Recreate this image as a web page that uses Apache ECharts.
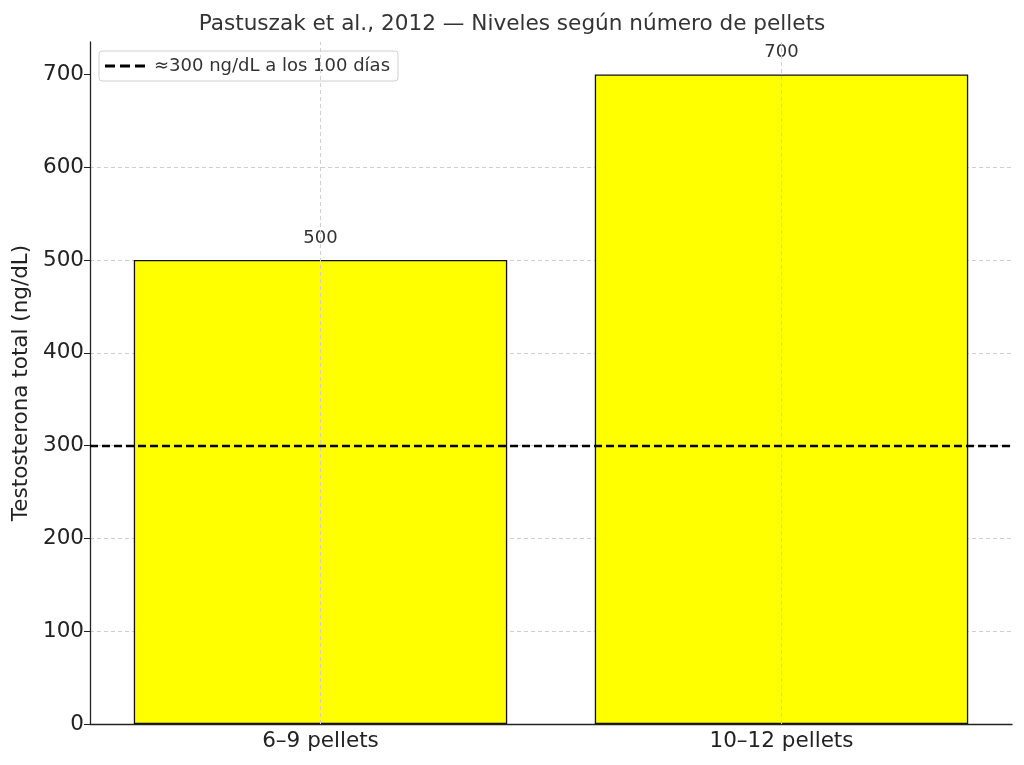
<!DOCTYPE html>
<html>
<head>
<meta charset="utf-8">
<script src="https://cdn.jsdelivr.net/npm/echarts@6/dist/echarts.min.js"></script>
<style>
  html, body { margin: 0; padding: 0; background: #fff; }
  #chart { width: 1024px; height: 765px; }
</style>
</head>
<body>
<div id="chart"></div>
<script>
// datos del gráfico
var categorias = ['6–9 pellets', '10–12 pellets'];
var niveles = [500, 700];
var umbral = 300;
var nombreUmbral = '≈300 ng/dL a los 100 días';
var ticksY = [0, 100, 200, 300, 400, 500, 600, 700];

var myChart = echarts.init(document.getElementById('chart'));
var font = 'DejaVu Sans';

// icono de leyenda: tres trazos negros
var iconoGuiones = 'path://M0,0 L10,0 L10,3 L0,3 Z M15,0 L25,0 L25,3 L15,3 Z M30,0 L40,0 L40,3 L30,3 Z';

// líneas verticales de la rejilla en el centro de cada categoría
var lineasVerticales = categorias.map(function (c) {
    return { xAxis: c, lineStyle: { color: '#cfcfcf', type: [4, 3], width: 1 } };
});

var option = {
    animation: false,
    textStyle: { fontFamily: font },
    title: {
        text: 'Pastuszak et al., 2012 — Niveles según número de pellets',
        left: 'center',
        top: 8,
        textStyle: { fontFamily: font, fontSize: 21.6, fontWeight: 'normal', color: '#333' }
    },
    legend: {
        left: 99,
        top: 51,
        data: [{ name: nombreUmbral, icon: iconoGuiones }],
        itemWidth: 40,
        itemHeight: 3,
        itemGap: 10,
        padding: [6, 8, 6, 6],
        borderColor: '#d0d0d0',
        borderWidth: 1,
        borderRadius: 3,
        backgroundColor: 'rgba(255,255,255,0.8)',
        textStyle: { fontFamily: font, fontSize: 18, color: '#333', padding: [0, 0, 0, 4] }
    },
    grid: { left: 90, right: 12, top: 42, bottom: 41, containLabel: false },
    xAxis: {
        type: 'category',
        data: categorias,
        axisLine: { lineStyle: { color: '#222', width: 1.3 } },
        axisTick: { alignWithLabel: true, length: 6, lineStyle: { color: '#222' } },
        axisLabel: { fontSize: 21.5, color: '#222', margin: 6 },
        splitLine: { show: false }
    },
    yAxis: {
        type: 'value',
        min: 0,
        max: 735,
        interval: 100,
        name: 'Testosterona total (ng/dL)',
        nameLocation: 'middle',
        nameGap: 56,
        nameTextStyle: { fontSize: 21.5, color: '#222' },
        axisLine: { show: true, lineStyle: { color: '#222', width: 1.3 } },
        axisTick: { show: true, length: 6, customValues: ticksY, lineStyle: { color: '#222' } },
        axisLabel: { fontSize: 21.5, color: '#222', margin: 6, customValues: ticksY },
        splitLine: { show: true, showMaxLine: false, lineStyle: { color: '#cfcfcf', type: [4, 3], width: 1 } }
    },
    series: [
        {
            type: 'bar',
            data: niveles,
            barWidth: '81%',
            itemStyle: { color: '#ffff00', borderColor: '#111', borderWidth: 1.3 },
            label: {
                show: true, position: 'top', distance: 13,
                fontSize: 18, color: '#333', fontFamily: font
            }
        },
        {
            name: nombreUmbral,
            type: 'line',
            data: [],
            symbol: 'none',
            z: 6,
            lineStyle: { color: '#000', type: [8, 4], width: 2.4 },
            itemStyle: { color: '#000' },
            markLine: {
                silent: true,
                symbol: 'none',
                label: { show: false },
                lineStyle: { color: '#000', type: [8, 4], width: 2.4 },
                data: lineasVerticales.concat([{ yAxis: umbral }])
            }
        }
    ]
};

myChart.setOption(option);
window.onresize = function () {
    myChart.resize();
};
</script>
</body>
</html>
